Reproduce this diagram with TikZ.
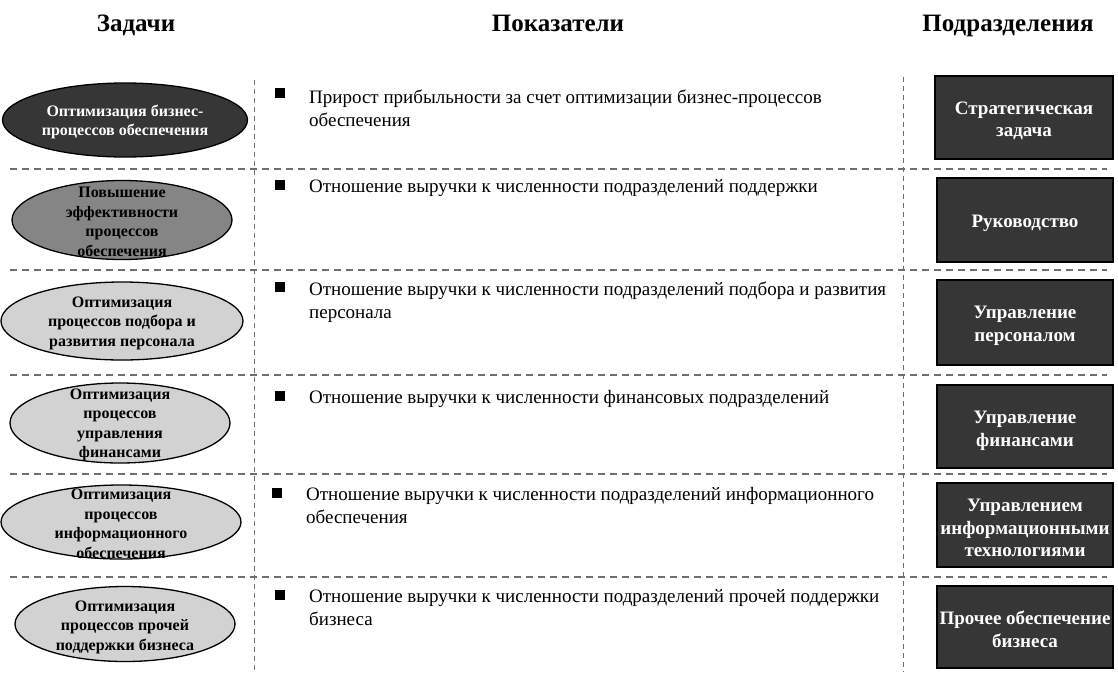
\documentclass[tikz,border=0pt]{standalone}
\usepackage{fontspec}
\setmainfont{Liberation Serif}
\usetikzlibrary{shapes.geometric}
\definecolor{darkfill}{HTML}{363636}
\definecolor{midfill}{HTML}{858585}
\definecolor{lightfill}{HTML}{D2D2D2}
\definecolor{dashgray}{HTML}{6E6E6E}
\begin{document}
\begin{tikzpicture}[x=1pt,y=-1pt,
  head/.style={font=\fontsize{25}{30}\selectfont\bfseries, anchor=base, inner sep=0pt},
  ell/.style={ellipse, draw=black, line width=1.3pt, inner sep=0pt},
  elltext/.style={font=\fontsize{16}{19.5}\selectfont\bfseries, align=center, inner sep=0pt},
  dept/.style={draw=black, line width=1.3pt, fill=darkfill, inner sep=0pt},
  depttext/.style={font=\fontsize{19}{22.5}\selectfont\bfseries, text=white, align=center, inner sep=0pt},
  bul/.style={fill=black, minimum size=9.5pt, inner sep=0pt},
  ind/.style={font=\fontsize{19}{23}\selectfont, align=left, anchor=north west, inner sep=0pt},
  hsep/.style={draw=dashgray, line width=1.1pt, dash pattern=on 7pt off 5pt},
  vsep/.style={draw=dashgray, line width=1pt, dash pattern=on 5pt off 4pt}]
\useasboundingbox[fill=white] (0,0) rectangle (1118,672);
% headers
\node[head] (h1) at (136,31) {Задачи};
\node[head] (h2) at (558,31) {Показатели};
\node[head] (h3) at (1008,31) {Подразделения};
% separators
\coordinate (vl1) at (254,80);  \coordinate (vl2) at (254,672);
\coordinate (vr1) at (903,77);  \coordinate (vr2) at (903,672);
\draw[vsep] (vl1) -- (vl2);
\draw[vsep] (vr1) -- (vr2);
\foreach \yy/\n in {169/a,270/b,375/c,474/d,577/e}{
  \coordinate (s\n1) at (10,\yy); \coordinate (s\n2) at (1107,\yy);
  \draw[hsep] (s\n1) -- (s\n2);
}
% task ellipses
\node[ell, fill=darkfill, minimum width=245pt, minimum height=74pt] (t1) at (125,120) {};
\node[elltext, text=white] (t1t) at (125,122) {Оптимизация бизнес-\\процессов обеспечения};
\node[ell, fill=midfill, minimum width=220pt, minimum height=79pt] (t2) at (122,220) {};
\node[elltext] (t2t) at (122,222) {Повышение\\эффективности\\процессов\\обеспечения};
\node[ell, fill=lightfill, minimum width=242pt, minimum height=78pt] (t3) at (122,321) {};
\node[elltext] (t3t) at (122,323) {Оптимизация\\процессов подбора и\\развития персонала};
\node[ell, fill=lightfill, minimum width=220pt, minimum height=80pt] (t4) at (120,423) {};
\node[elltext] (t4t) at (120,425) {Оптимизация\\процессов\\управления\\финансами};
\node[ell, fill=lightfill, minimum width=240pt, minimum height=74pt] (t5) at (121,522) {};
\node[elltext] (t5t) at (121,524) {Оптимизация\\процессов\\информационного\\обеспечения};
\node[ell, fill=lightfill, minimum width=220pt, minimum height=75pt] (t6) at (125,624) {};
\node[elltext] (t6t) at (125,627) {Оптимизация\\процессов прочей\\поддержки бизнеса};
% indicators
\node[bul] (b1) at (280,93) {};
\node[ind] (i1) at (309,90) {Прирост прибыльности за счет оптимизации бизнес-процессов\\обеспечения};
\node[bul] (b2) at (280,185) {};
\node[ind] (i2) at (309,179) {Отношение выручки к численности подразделений поддержки};
\node[bul] (b3) at (280,287) {};
\node[ind] (i3) at (309,282) {Отношение выручки к численности подразделений подбора и развития\\персонала};
\node[bul] (b4) at (280,396) {};
\node[ind] (i4) at (309,390) {Отношение выручки к численности финансовых подразделений};
\node[bul] (b5) at (277,493) {};
\node[ind] (i5) at (306,487) {Отношение выручки к численности подразделений информационного\\обеспечения};
\node[bul] (b6) at (280,595) {};
\node[ind] (i6) at (309,589) {Отношение выручки к численности подразделений прочей поддержки\\бизнеса};
% departments
\node[dept, minimum width=178pt, minimum height=83pt] (d1) at (1024,117.5) {};
\node[depttext] (d1t) at (1024,121) {Стратегическая\\задача};
\node[dept, minimum width=176pt, minimum height=84pt] (d2) at (1025,220) {};
\node[depttext] (d2t) at (1025,223) {Руководство};
\node[dept, minimum width=176pt, minimum height=85pt] (d3) at (1025,322.5) {};
\node[depttext] (d3t) at (1025,326) {Управление\\персоналом};
\node[dept, minimum width=176pt, minimum height=83pt] (d4) at (1025,426.5) {};
\node[depttext] (d4t) at (1025,431) {Управление\\финансами};
\node[dept, minimum width=176pt, minimum height=84pt] (d5) at (1025,525) {};
\node[depttext] (d5t) at (1025,528) {Управлением\\информационными\\технологиями};
\node[dept, minimum width=176pt, minimum height=82pt] (d6) at (1025,627) {};
\node[depttext] (d6t) at (1025,629.5) {Прочее обеспечение\\бизнеса};
\end{tikzpicture}
\end{document}
